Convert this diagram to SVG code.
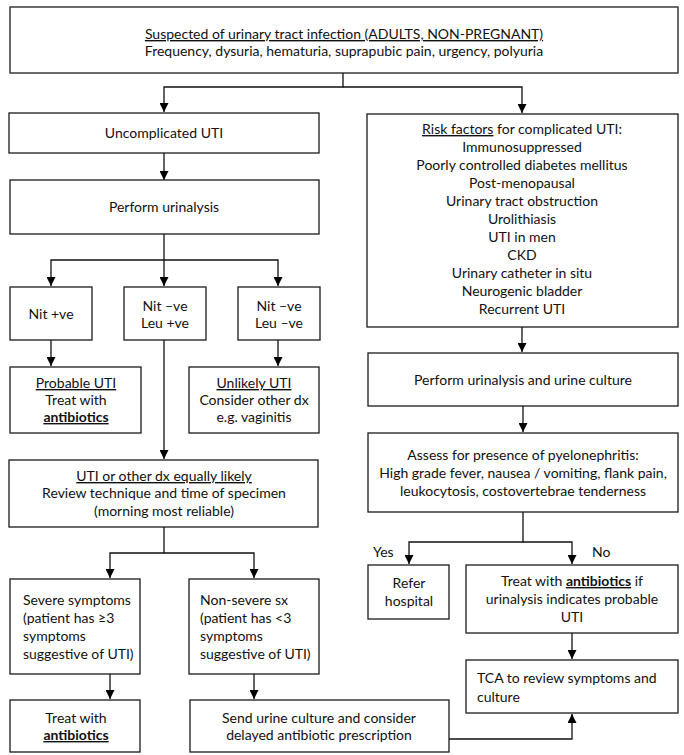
<svg xmlns="http://www.w3.org/2000/svg" width="684" height="755" viewBox="0 0 684 755">
<defs>
<marker id="ah" viewBox="0 0 10 10" refX="10" refY="5" markerWidth="9" markerHeight="9" markerUnits="userSpaceOnUse" orient="auto">
<path d="M0,0 L10,5 L0,10 z" fill="#000"/>
</marker>
<style>
rect{fill:#fff;stroke:#1a1a1a;stroke-width:1.3}
text{font-family:Lato,"Liberation Sans",sans-serif;font-size:14px;fill:#111}
.c{text-anchor:middle}
.u{text-decoration:underline}
.b{font-weight:bold;text-decoration:underline}
#conn path{fill:none;stroke:#111;stroke-width:1.3}
</style>
</defs>
<rect width="684" height="755" style="fill:#fff;stroke:none"/>

<g id="conn">
<path d="M343,73 V87 H164 V112" marker-end="url(#ah)"/>
<path d="M343,87 H522 V113" marker-end="url(#ah)"/>
<path d="M164,153 V180" marker-end="url(#ah)"/>
<path d="M164,234 V286" marker-end="url(#ah)"/>
<path d="M164,260 H51 V286" marker-end="url(#ah)"/>
<path d="M164,260 H278 V286" marker-end="url(#ah)"/>
<path d="M51,340 V366" marker-end="url(#ah)"/>
<path d="M278,340 V366" marker-end="url(#ah)"/>
<path d="M164,340 V459" marker-end="url(#ah)"/>
<path d="M164,527 V553 H110 V578" marker-end="url(#ah)"/>
<path d="M164,553 H254 V578" marker-end="url(#ah)"/>
<path d="M110,674 V699" marker-end="url(#ah)"/>
<path d="M254,674 V699" marker-end="url(#ah)"/>
<path d="M522,327 V352" marker-end="url(#ah)"/>
<path d="M523,406 V432" marker-end="url(#ah)"/>
<path d="M523,512 V542 H409 V564" marker-end="url(#ah)"/>
<path d="M523,542 H572 V564" marker-end="url(#ah)"/>
<path d="M572,633 V659" marker-end="url(#ah)"/>
<path d="M449,739 H572 V714" marker-end="url(#ah)"/>
</g>

<g id="n-suspected">
<rect x="10" y="7" width="668" height="66"/>
<text x="344" y="39" class="c"><tspan class="u">Suspected of urinary tract infection (ADULTS, NON-PREGNANT)</tspan></text>
<text x="344" y="56" class="c">Frequency, dysuria, hematuria, suprapubic pain, urgency, polyuria</text>
</g>

<g id="n-uncomplicated">
<rect x="9" y="113" width="310" height="40"/>
<text x="164" y="138" class="c">Uncomplicated UTI</text>
</g>

<g id="n-urinalysis">
<rect x="10" y="180" width="309" height="54"/>
<text x="164" y="212" class="c">Perform urinalysis</text>
</g>

<g id="n-nitpos">
<rect x="10" y="287" width="82" height="53"/>
<text x="51" y="319" class="c">Nit +ve</text>
</g>

<g id="n-nitneg-leupos">
<rect x="124" y="287" width="82" height="53"/>
<text x="165" y="311" class="c">Nit –ve</text>
<text x="165" y="328" class="c">Leu +ve</text>
</g>

<g id="n-nitneg-leuneg">
<rect x="238" y="287" width="82" height="53"/>
<text x="279" y="311" class="c">Nit –ve</text>
<text x="279" y="328" class="c">Leu –ve</text>
</g>

<g id="n-probable">
<rect x="10" y="367" width="131" height="66"/>
<text x="76" y="388" class="c"><tspan class="u">Probable UTI</tspan></text>
<text x="76" y="405" class="c">Treat with</text>
<text x="76" y="422" class="c"><tspan class="b">antibiotics</tspan></text>
</g>

<g id="n-unlikely">
<rect x="189" y="367" width="130" height="66"/>
<text x="254" y="388" class="c"><tspan class="u">Unlikely UTI</tspan></text>
<text x="254" y="405" class="c">Consider other dx</text>
<text x="254" y="422" class="c">e.g. vaginitis</text>
</g>

<g id="n-equally">
<rect x="9" y="460" width="309" height="67"/>
<text x="164" y="481" class="c"><tspan class="u">UTI or other dx equally likely</tspan></text>
<text x="164" y="498" class="c">Review technique and time of specimen</text>
<text x="164" y="516" class="c">(morning most reliable)</text>
</g>

<g id="n-severe">
<rect x="10" y="579" width="130" height="95"/>
<text x="23" y="605">Severe symptoms</text>
<text x="23" y="623">(patient has ≥3</text>
<text x="23" y="641">symptoms</text>
<text x="23" y="659">suggestive of UTI)</text>
</g>

<g id="n-nonsevere">
<rect x="189" y="579" width="130" height="95"/>
<text x="200" y="605">Non-severe sx</text>
<text x="200" y="623">(patient has &lt;3</text>
<text x="200" y="641">symptoms</text>
<text x="200" y="659">suggestive of UTI)</text>
</g>

<g id="n-treat-abx">
<rect x="10" y="700" width="130" height="52"/>
<text x="76" y="723" class="c">Treat with</text>
<text x="76" y="740" class="c"><tspan class="b">antibiotics</tspan></text>
</g>

<g id="n-send-culture">
<rect x="190" y="700" width="259" height="52"/>
<text x="319" y="723" class="c">Send urine culture and consider</text>
<text x="319" y="740" class="c">delayed antibiotic prescription</text>
</g>

<g id="n-risk">
<rect x="367" y="114" width="311" height="213"/>
<text x="522" y="134" class="c"><tspan class="u">Risk factors</tspan> for complicated UTI:</text>
<text x="522" y="152" class="c">Immunosuppressed</text>
<text x="522" y="170" class="c">Poorly controlled diabetes mellitus</text>
<text x="522" y="188" class="c">Post-menopausal</text>
<text x="522" y="206" class="c">Urinary tract obstruction</text>
<text x="522" y="224" class="c">Urolithiasis</text>
<text x="522" y="242" class="c">UTI in men</text>
<text x="522" y="260" class="c">CKD</text>
<text x="522" y="278" class="c">Urinary catheter in situ</text>
<text x="522" y="296" class="c">Neurogenic bladder</text>
<text x="522" y="314" class="c">Recurrent UTI</text>
</g>

<g id="n-urinalysis-culture">
<rect x="368" y="353" width="310" height="53"/>
<text x="523" y="385" class="c">Perform urinalysis and urine culture</text>
</g>

<g id="n-pyelo">
<rect x="368" y="433" width="310" height="79"/>
<text x="523" y="460" class="c">Assess for presence of pyelonephritis:</text>
<text x="523" y="478" class="c">High grade fever, nausea / vomiting, flank pain,</text>
<text x="523" y="496" class="c">leukocytosis, costovertebrae tenderness</text>
</g>

<g id="labels">
<text x="373" y="557">Yes</text>
<text x="592" y="557">No</text>
</g>

<g id="n-refer">
<rect x="368" y="565" width="81" height="54"/>
<text x="409" y="588" class="c">Refer</text>
<text x="409" y="606" class="c">hospital</text>
</g>

<g id="n-treat-if">
<rect x="466" y="565" width="212" height="68"/>
<text x="572" y="586" class="c">Treat with <tspan class="b">antibiotics</tspan> if</text>
<text x="572" y="604" class="c">urinalysis indicates probable</text>
<text x="572" y="622" class="c">UTI</text>
</g>

<g id="n-tca">
<rect x="466" y="660" width="212" height="53"/>
<text x="477" y="683">TCA to review symptoms and</text>
<text x="477" y="702">culture</text>
</g>
</svg>
